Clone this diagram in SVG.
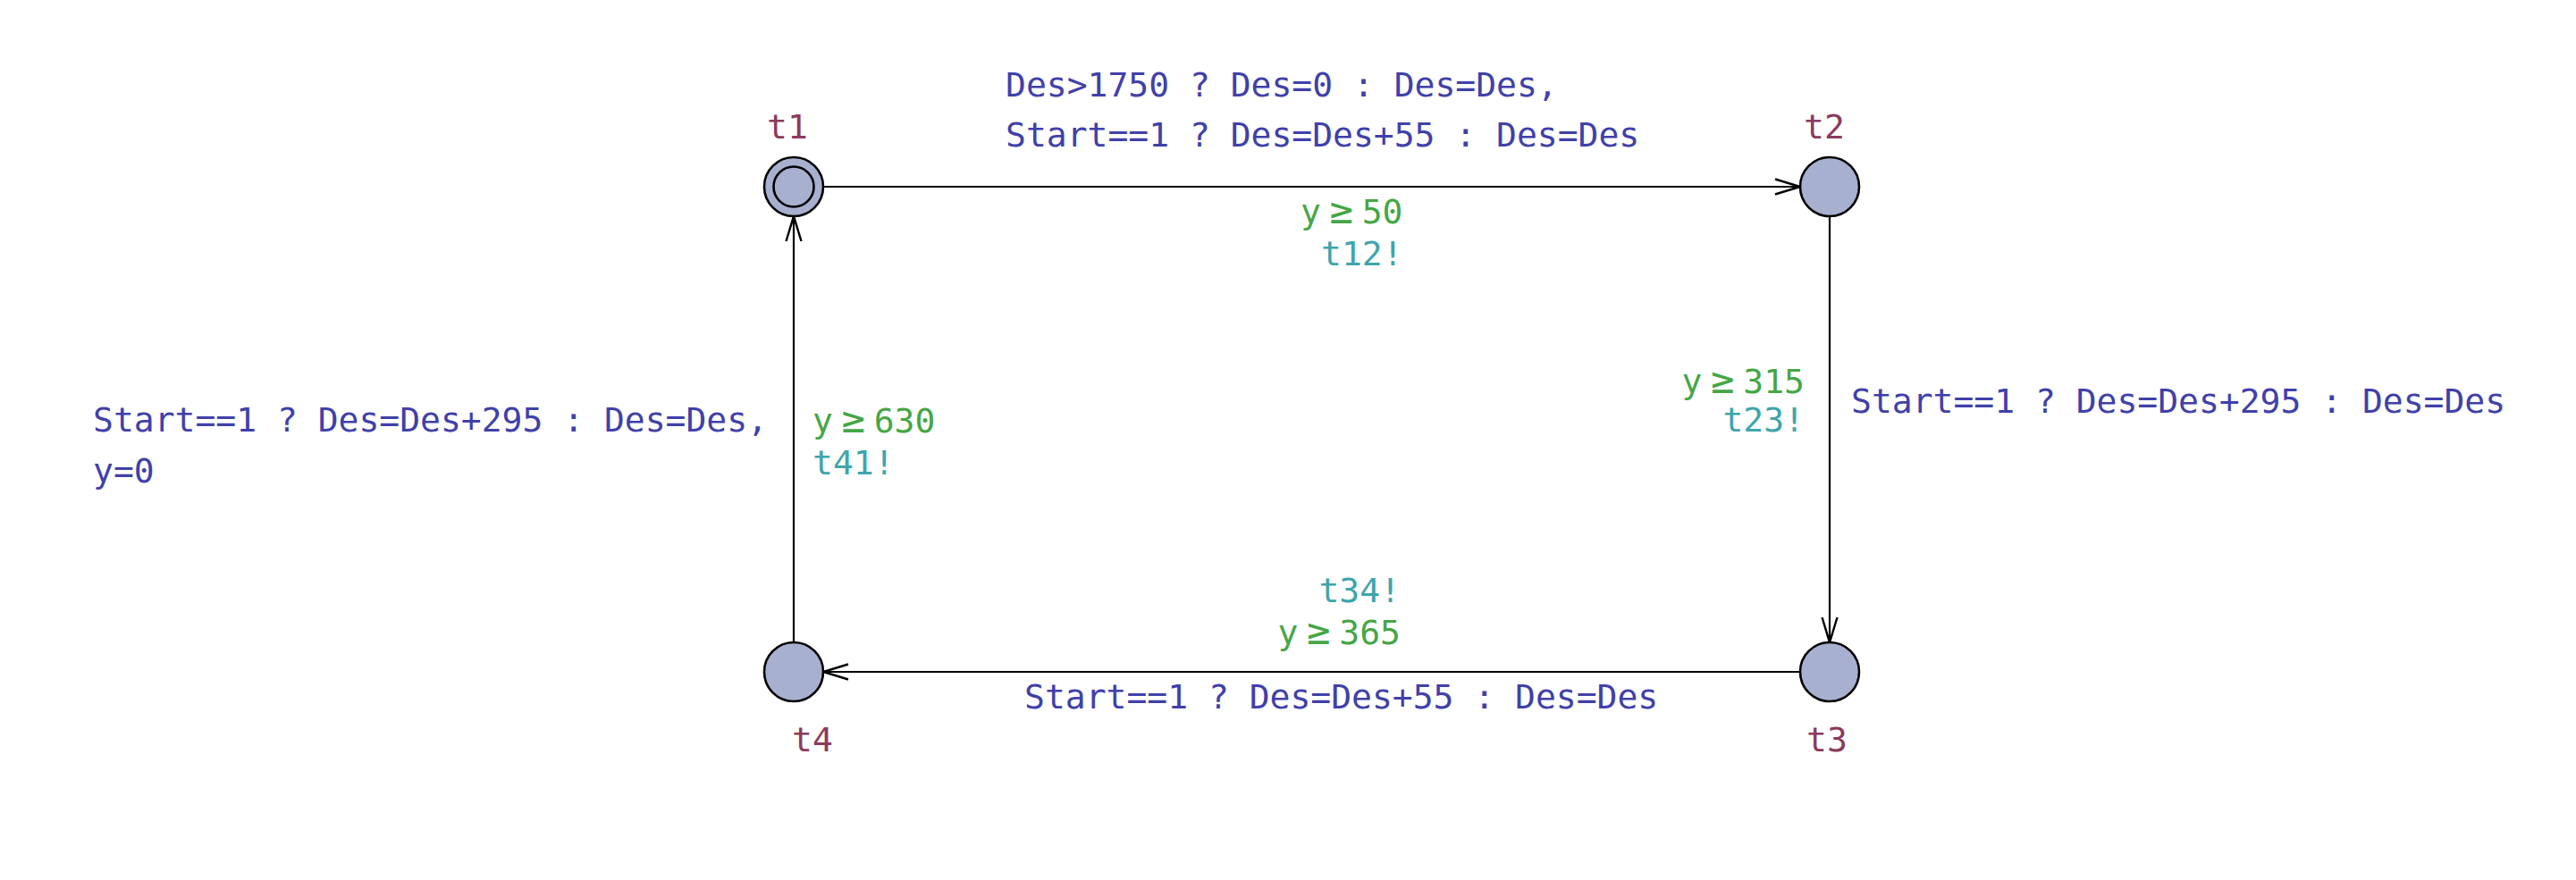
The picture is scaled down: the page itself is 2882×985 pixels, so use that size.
<svg xmlns="http://www.w3.org/2000/svg" width="2882" height="985" viewBox="0 0 2882 985">
<style>
text{font-family:"DejaVu Sans Mono","Liberation Mono",monospace;font-size:38px}
.ge{font-size:44px}
.nm{fill:#8b3a5e}
.gd{fill:#45a645}
.sy{fill:#3ea5ab}
.up{fill:#4040aa}
.loc{fill:#a8b0cf;stroke:#000;stroke-width:2.6}
.edge{fill:none;stroke:#000;stroke-width:2.2}
</style>
<defs>
<marker id="arr" markerUnits="userSpaceOnUse" markerWidth="40" markerHeight="24" viewBox="-30 -12 32 24" refX="0" refY="0" orient="auto">
<path d="M-28,-8.5 L0,0 L-28,8.5" fill="none" stroke="#000" stroke-width="2.4"/>
</marker>
</defs>
<rect width="2882" height="985" fill="#fff"/>
<g id="connectors">
<g id="e12">
<path class="edge" d="M921,209 L2014,209" marker-end="url(#arr)"/>
<text class="up" x="1125" y="108">Des&gt;1750 ? Des=0 : Des=Des,</text>
<text class="up" x="1125" y="164">Start==1 ? Des=Des+55 : Des=Des</text>
<text class="gd" y="250"><tspan x="1455">y</tspan><tspan class="ge" x="1487.5">≥</tspan><tspan x="1523.7">50</tspan></text>
<text class="sy" x="1478" y="297">t12!</text>
</g>
<g id="e23">
<path class="edge" d="M2047,242 L2047,719" marker-end="url(#arr)"/>
<text class="gd" y="440"><tspan x="1881.6">y</tspan><tspan class="ge" x="1914.1">≥</tspan><tspan x="1950.3">315</tspan></text>
<text class="sy" x="1927.4" y="483">t23!</text>
<text class="up" x="2071" y="462">Start==1 ? Des=Des+295 : Des=Des</text>
</g>
<g id="e34">
<path class="edge" d="M2014,752 L921,752" marker-end="url(#arr)"/>
<text class="sy" x="1475.4" y="674">t34!</text>
<text class="gd" y="721"><tspan x="1429.6">y</tspan><tspan class="ge" x="1462.1">≥</tspan><tspan x="1498.3">365</tspan></text>
<text class="up" x="1146" y="793">Start==1 ? Des=Des+55 : Des=Des</text>
</g>
<g id="e41">
<path class="edge" d="M888,719 L888,242" marker-end="url(#arr)"/>
<text class="gd" y="484"><tspan x="909">y</tspan><tspan class="ge" x="941.5">≥</tspan><tspan x="977.7">630</tspan></text>
<text class="sy" x="909" y="531">t41!</text>
<text class="up" x="104" y="483">Start==1 ? Des=Des+295 : Des=Des,</text>
<text class="up" x="104" y="540">y=0</text>
</g>
</g>
<g id="t1">
<circle class="loc" cx="888" cy="209" r="33"/>
<circle class="loc" cx="888" cy="209" r="22.5"/>
<text class="nm" x="858" y="155">t1</text>
</g>
<g id="t2">
<circle class="loc" cx="2047" cy="209" r="33"/>
<text class="nm" x="2018" y="155">t2</text>
</g>
<g id="t3">
<circle class="loc" cx="2047" cy="752" r="33"/>
<text class="nm" x="2021" y="841">t3</text>
</g>
<g id="t4">
<circle class="loc" cx="888" cy="752" r="33"/>
<text class="nm" x="886" y="841">t4</text>
</g>
</svg>
